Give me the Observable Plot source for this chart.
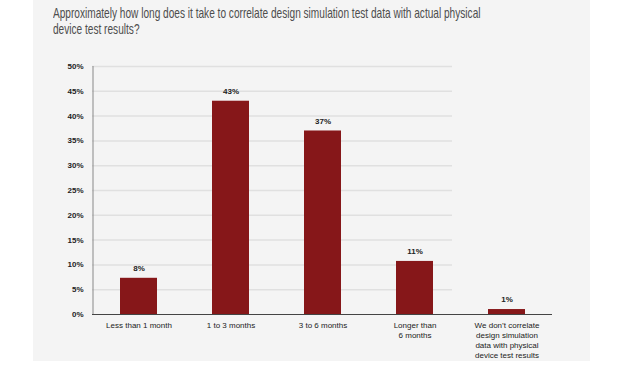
<!DOCTYPE html>
<html><head><meta charset="utf-8">
<script src="https://cdn.jsdelivr.net/npm/d3@7"></script>
<script src="https://cdn.jsdelivr.net/npm/@observablehq/plot@0.6"></script>
<style>
body{margin:0;background:#fff;}
#wrap{position:absolute;left:33px;top:0;width:557px;height:361px;background:#f4f4f4;overflow:hidden;}
#title{position:absolute;left:20px;top:5px;white-space:nowrap;font-family:"Liberation Sans",Arial,sans-serif;font-size:14.5px;line-height:16px;color:#4d4d4d;transform:scaleX(0.697);transform-origin:0 0;}
#chart{position:absolute;left:0;top:45px;}
</style></head><body>
<div id="wrap"><div id="title">Approximately how long does it take to correlate design simulation test data with actual physical<br>device test results?</div><div id="chart"></div></div>
<script>
const categories = ["Less than 1 month","1 to 3 months","3 to 6 months","Longer than 6 months","We don’t correlate design simulation data with physical device test results"];
const categoryLabels = ["Less than 1 month","1 to 3 months","3 to 6 months","Longer than\n6 months","We don’t correlate\ndesign simulation\ndata with physical\ndevice test results"];
const values = [7.3, 43, 37, 10.7, 1];
const valueLabels = ["8%","43%","37%","11%","1%"];
const yTicks = [0,5,10,15,20,25,30,35,40,45,50];

const data = categories.map((c,i)=>({cat:c, v:values[i], lab:valueLabels[i]}));
const labelMap = new Map(categories.map((c,i)=>[c, categoryLabels[i]]));
const font = "'Liberation Sans',Arial,sans-serif";

const chart = Plot.plot({
  width: 557, height: 316,
  marginLeft: 59, marginRight: 38, marginTop: 21, marginBottom: 47,
  style: {background:"transparent", fontFamily: font, fontSize: "8px", color:"#222"},
  x: {domain: categories, paddingInner: 0.6, paddingOuter: 0.3, axis: null},
  y: {domain: [0,50], axis: null},
  marks: [
    Plot.ruleY(yTicks.filter(t=>t>0), {stroke:"#e0e0e0", strokeWidth:1.5, insetRight: 100}),
    Plot.barY(data, {x:"cat", y:"v", fill:"#861719"}),
    Plot.text(data, {x:"cat", y:"v", text:"lab", dy:-10, fill:"#222", fontWeight:"bold", fontSize:8}),
    Plot.axisY({ticks: yTicks, tickFormat: d => d + "%", label: null, tickSize: 0, tickPadding: 9, fill:"#222", fontWeight:"bold", fontSize: 8}),
    Plot.axisX({label: null, tickSize: 0, tickPadding: 6, tickFormat: d => labelMap.get(d), lineHeight: 1.25, fill:"#222", fontSize: 8}),
    Plot.ruleX([categories[0]], {x: d => d, y1: 0, y2: 50, dx: -46, stroke:"#888", strokeWidth:1}),
    Plot.ruleY([0], {stroke:"#444", strokeWidth:1})
  ]
});
document.getElementById("chart").appendChild(chart);
</script>
</body></html>
